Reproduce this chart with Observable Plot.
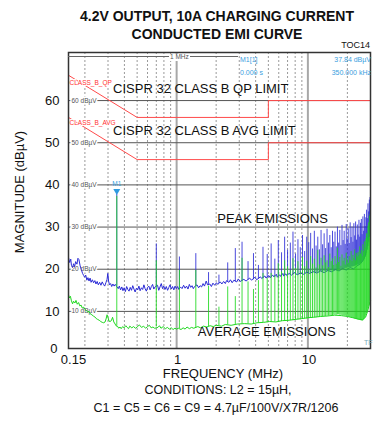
<!DOCTYPE html>
<html><head><meta charset="utf-8">
<script src="https://cdn.jsdelivr.net/npm/d3@7"></script>
<script src="https://cdn.jsdelivr.net/npm/@observablehq/plot@0.6"></script>
<style>
html,body{margin:0;padding:0;background:#fff;}
#wrap{position:relative;width:377px;height:421px;overflow:hidden;font-family:"Liberation Sans",Arial,Helvetica,sans-serif;color:#111;}
#chart{position:absolute;left:0;top:0;}
.t{position:absolute;white-space:nowrap;}
.c{transform:translateX(-50%);}
.sm{font-size:7px;line-height:7px;color:#3a9ee0;}
</style></head><body>
<div id="wrap">
<div id="chart"></div>
<div class="t c" style="left:217px;top:9px;font-size:14px;line-height:14px;font-weight:bold">4.2V OUTPUT, 10A CHARGING CURRENT</div>
<div class="t c" style="left:217px;top:27px;font-size:14px;line-height:14px;font-weight:bold">CONDUCTED EMI CURVE</div>
<div class="t" style="right:7px;top:41px;font-size:9px;line-height:9px">TOC14</div>
<div class="t" style="left:68px;top:56px;width:170px;height:1px;background:#666"></div>
<div class="t" style="left:169px;top:54px;font-size:6.5px;line-height:6.5px;color:#555;background:#fff;padding:0 1px">1 MHz</div>
<div class="t sm" style="left:240px;top:56px">M1[1]</div>
<div class="t sm" style="left:240px;top:68.5px">0.000 s</div>
<div class="t sm" style="right:6px;top:56px">37.84 dBµV</div>
<div class="t sm" style="right:6px;top:68.5px">350.000 kHz</div>
<div class="t sm" style="left:364px;top:339px;color:#7ab">TF</div>
<div class="t c" style="left:223px;top:367px;font-size:13px;line-height:13px">FREQUENCY (MHz)</div>
<div class="t" style="left:19px;top:192px;font-size:13px;line-height:13px;transform:translate(-50%,-50%) rotate(-90deg)">MAGNITUDE (dBµV)</div>
<div class="t c" style="left:218px;top:384px;font-size:12.5px;line-height:12.5px">CONDITIONS: L2 = 15µH,</div>
<div class="t c" style="left:216px;top:402px;font-size:12.5px;line-height:12.5px">C1 = C5 = C6 = C9 = 4.7µF/100V/X7R/1206</div>
</div>
<script>
// ---------- data ----------
const xDomain = [0.15, 30];
const yDomain = [1.2, 71.4];
const xTicksFirst = [0.15];
const xTicks = [1, 10, 30];
const yTicks = [10, 20, 30, 40, 50, 60];
const gridMinor = [0.2,0.3,0.4,0.5,0.6,0.7,0.8,0.9,2,3,4,5,6,7,8,9,20];
const gridMajor = [1, 10];

const limitF = [0.15, 0.5, 5, 5, 30];
const qpLimit = [66, 56, 56, 60, 60];
const avgLimit = [56, 46, 46, 50, 50];

// peak emissions, broadband floor (MHz, dBµV)
const peakNoise = [[0.150,22.8],[0.153,21.6],[0.156,22.4],[0.158,20.9],[0.161,20.4],[0.164,21.3],[0.167,20.6],[0.170,21.8],[0.174,21.2],[0.177,22.6],[0.180,22.3],[0.184,20.8],[0.188,19.9],[0.192,19.0],[0.196,18.5],[0.199,18.1],[0.203,18.6],[0.207,17.4],[0.211,18.0],[0.215,17.2],[0.219,17.9],[0.223,16.9],[0.228,17.5],[0.233,16.8],[0.238,17.3],[0.243,16.5],[0.248,17.1],[0.253,16.3],[0.259,16.9],[0.265,16.2],[0.271,17.0],[0.277,16.4],[0.283,16.0],[0.289,16.8],[0.295,17.6],[0.299,19.0],[0.303,17.2],[0.308,16.3],[0.314,16.6],[0.320,15.9],[0.327,16.5],[0.334,16.0],[0.341,16.4],[0.359,15.4],[0.366,16.0],[0.374,15.1],[0.382,15.8],[0.390,14.9],[0.398,15.6],[0.407,14.7],[0.416,15.9],[0.425,15.2],[0.434,14.8],[0.443,15.7],[0.453,15.0],[0.463,16.1],[0.473,15.3],[0.483,14.6],[0.494,15.5],[0.505,15.1],[0.516,16.0],[0.527,14.9],[0.539,15.6],[0.551,15.2],[0.563,16.3],[0.575,15.4],[0.588,14.8],[0.601,15.7],[0.614,16.0],[0.628,15.1],[0.642,15.9],[0.656,16.4],[0.670,15.3],[0.685,15.8],[0.715,16.2],[0.731,15.0],[0.747,15.8],[0.764,16.6],[0.781,15.4],[0.798,16.0],[0.816,15.2],[0.834,15.9],[0.853,15.0],[0.872,15.7],[0.891,16.3],[0.911,15.3],[0.931,15.9],[0.952,15.1],[0.973,16.0],[0.995,15.4],[1.017,15.9],[1.04,15.2],[1.07,15.8],[1.10,15.4],[1.13,16.2],[1.16,15.5],[1.19,16.0],[1.22,15.3],[1.25,16.4],[1.28,15.7],[1.31,16.1],[1.34,15.4],[1.37,15.9],[1.43,16.3],[1.47,15.6],[1.51,16.1],[1.55,15.8],[1.59,16.6],[1.63,16.0],[1.68,17.2],[1.72,16.3],[1.79,16.5],[1.84,15.9],[1.89,16.7],[1.95,16.2],[2.01,16.8],[2.06,16.4],[2.15,17.0],[2.21,16.5],[2.28,17.1],[2.35,16.6],[2.40,17.3],[2.50,16.9],[2.57,17.5],[2.65,16.8],[2.73,17.4],[2.87,17.0],[2.95,17.7],[3.05,17.1],[3.25,17.6],[3.38,17.2],[3.60,17.9],[3.72,17.4],[3.95,18.1],[4.07,17.5],[4.35,18.2],[4.45,17.8],[4.70,18.4],[4.80,17.9],[5.05,18.5],[5.15,18.0],[5.40,18.6],[5.50,18.2],[5.75,18.8],[5.85,18.1],[6.10,18.7],[6.20,18.3],[6.45,19.0],[6.55,18.4],[6.80,18.9],[6.90,18.5],[7.2,19.0],[7.5,18.6],[7.9,19.2],[8.3,18.7],[8.8,19.1],[9.3,18.8],[9.8,19.3],[10.3,19.0],[11.0,19.4],[11.7,19.1],[12.5,19.6],[13.3,19.2],[14.2,19.7],[15.2,19.4],[16.2,19.9],[17.3,19.6],[18.4,20.2],[19.6,19.8],[21.0,20.4],[22.3,20.1],[23.7,20.8],[25.2,21.3],[26.5,22.2],[27.6,23.6],[28.5,26.0],[29.2,29.0],[29.6,32.5],[30.0,35.0]];

// average emissions, broadband floor (MHz, dBµV)
const avgNoise = [[0.150,14.0],[0.152,13.2],[0.155,13.6],[0.158,12.5],[0.161,11.8],[0.164,12.4],[0.168,12.0],[0.171,12.6],[0.175,11.7],[0.179,12.1],[0.183,11.3],[0.187,11.5],[0.191,10.8],[0.196,11.0],[0.200,10.5],[0.205,10.2],[0.210,9.9],[0.215,10.0],[0.220,9.4],[0.226,9.2],[0.232,8.9],[0.238,8.7],[0.244,8.3],[0.250,8.1],[0.257,7.9],[0.264,7.6],[0.271,7.4],[0.278,7.3],[0.285,7.5],[0.290,8.2],[0.295,9.2],[0.300,8.6],[0.305,7.7],[0.311,7.6],[0.318,7.8],[0.325,8.6],[0.332,7.5],[0.340,7.0],[0.345,6.6],[0.356,6.4],[0.362,6.0],[0.370,6.3],[0.378,5.9],[0.388,6.4],[0.398,6.1],[0.41,6.6],[0.42,6.2],[0.43,5.9],[0.44,6.5],[0.455,6.1],[0.47,6.4],[0.485,6.0],[0.50,6.3],[0.52,6.8],[0.54,6.2],[0.56,6.5],[0.58,6.0],[0.60,6.4],[0.62,6.7],[0.64,6.1],[0.66,6.3],[0.68,6.0],[0.72,6.2],[0.74,6.6],[0.76,6.0],[0.79,6.4],[0.82,5.9],[0.85,6.2],[0.88,5.8],[0.91,6.1],[0.94,5.7],[0.97,6.0],[1.00,5.8],[1.03,6.0],[1.08,5.7],[1.12,6.1],[1.16,5.8],[1.20,6.3],[1.25,5.9],[1.30,6.2],[1.35,6.0],[1.45,6.4],[1.52,6.1],[1.60,6.5],[1.70,6.3],[1.80,6.6],[1.90,6.4],[2.00,6.7],[2.20,6.5],[2.35,6.9],[2.60,6.7],[2.90,7.0],[3.30,7.1],[3.70,7.0],[4.10,7.3],[4.60,7.4],[5.10,7.6],[5.70,7.5],[6.40,7.8],[7.20,7.9],[8.0,8.1],[9.0,8.3],[10.0,8.5],[11.0,8.6],[12.5,8.8],[14.0,8.9],[16.0,9.1],[18.0,9.0],[20.0,8.8],[22.0,8.5],[24.0,8.2],[26.0,8.0],[27.5,8.6],[28.5,10.0],[29.3,11.5],[30.0,12.5]];

// switching harmonics (350 kHz fundamental), MHz
const harmF = [0.35,0.70,1.05,1.40,1.75,2.10,2.45,2.80,3.15,3.50,3.85,4.20,4.55,4.90,5.25,5.60,5.95,6.30,6.65,7.00,7.35,7.70,8.05,8.40,8.75,9.10,9.45,9.80,10.15,10.50,10.85,11.20,11.55,11.90,12.25,12.60,12.95,13.30,13.65,14.00,14.35,14.70,15.05,15.40,15.75,16.10,16.45,16.80,17.15,17.50,17.85,18.20,18.55,18.90,19.25,19.60,19.95,20.30,20.65,21.00,21.35,21.70,22.05,22.40,22.75,23.10,23.45,23.80,24.15,24.50,24.85,25.20,25.55,25.90,26.25,26.60,26.95,27.30,27.65,28.00,28.35,28.70,29.05,29.40,29.75];
const peakSpike = [37.8,26.0,22.9,23.7,19.2,18.6,21.5,24.9,26.4,21.8,23.7,20.9,25.2,23.5,26.0,22.4,26.8,23.9,27.6,24.5,26.2,28.8,23.6,27.0,25.1,28.0,24.2,27.6,26.3,28.5,24.8,29.0,25.5,27.6,24.6,29.2,25.8,28.4,24.9,29.5,26.2,28.0,25.1,29.0,26.4,28.8,25.3,30.0,26.2,29.2,25.6,30.4,26.8,29.0,25.9,30.6,27.2,29.6,26.1,31.0,27.5,30.0,26.4,30.8,27.9,31.2,26.9,30.5,28.1,31.6,27.6,30.9,31.8,28.2,32.4,29.0,33.0,30.1,32.2,34.0,32.0,35.5,33.6,36.4,37.0];
const peakFloor = [16.0,15.8,15.6,16.0,16.4,16.6,16.9,17.0,17.2,17.4,17.5,17.6,17.8,17.9,18.0,18.1,18.2,18.3,18.4,18.5,18.6,18.7,18.7,18.8,18.8,18.9,18.9,19.0,19.0,19.1,19.1,19.2,19.2,19.3,19.3,19.4,19.4,19.5,19.5,19.5,19.6,19.6,19.6,19.7,19.7,19.7,19.8,19.8,19.9,19.9,20.0,20.0,20.1,20.1,20.2,20.2,20.3,20.3,20.4,20.4,20.5,20.5,20.6,20.6,20.7,20.8,20.9,21.0,21.0,21.1,21.2,21.3,21.5,21.7,21.9,22.1,22.4,22.8,23.2,23.8,24.5,25.4,26.4,27.6,29.0];
const avgSpike = [37.3,22.0,19.7,19.7,16.0,11.0,15.8,13.5,22.6,17.0,15.2,17.3,19.0,17.8,19.0,18.5,21.3,19.4,22.0,20.6,19.7,22.5,20.2,21.8,19.5,22.8,20.6,21.9,20.0,23.0,21.2,22.4,20.3,24.5,21.0,22.6,20.8,23.2,21.5,22.0,20.4,23.6,21.8,22.5,20.9,23.0,21.2,25.0,21.6,22.8,20.7,23.4,21.9,22.6,21.0,23.8,22.2,21.4,23.0,22.1,24.2,21.8,23.3,22.5,24.6,22.0,23.7,22.9,24.0,23.2,25.3,23.6,24.4,23.0,25.8,24.2,26.5,25.0,27.2,28.4,27.5,30.2,31.0,32.5,33.0];
const avgFloor = [6.5,6.3,5.9,6.1,6.4,6.6,6.8,6.9,7.0,7.0,7.1,7.2,7.3,7.3,7.4,7.5,7.5,7.6,7.7,7.7,7.8,7.8,7.9,8.0,8.0,8.1,8.2,8.2,8.3,8.4,8.4,8.5,8.5,8.6,8.6,8.7,8.7,8.8,8.8,8.9,8.9,9.0,9.0,9.0,9.1,9.1,9.1,9.2,9.2,9.1,9.1,9.0,9.0,8.9,8.9,8.8,8.8,8.7,8.6,8.6,8.5,8.4,8.4,8.3,8.2,8.2,8.1,8.0,8.0,7.9,7.9,7.8,7.8,7.7,7.8,8.0,8.3,8.6,9.0,9.5,10.0,10.6,11.2,11.8,12.4];

const marker = [{f: 0.35, db: 37.84, name: "M1"}];
const limitTags = [{db: 64.3, text: "CLASS_B_QP"}, {db: 54.7, text: "CLASS_B_AVG"}];
const notes = [
  {f: 0.328, db: 62.8, text: "CISPR 32 CLASS B QP LIMIT"},
  {f: 0.328, db: 52.9, text: "CISPR 32 CLASS B AVG LIMIT"},
  {f: 2.04, db: 31.9, text: "PEAK EMISSIONS"},
  {f: 1.45, db: 5.1, text: "AVERAGE EMISSIONS"}
];

// ---------- build ----------
const qpData = limitF.map((f, i) => ({f, v: qpLimit[i]}));
const avData = limitF.map((f, i) => ({f, v: avgLimit[i]}));
const pkRules = harmF.map((f, i) => ({f, lo: peakFloor[i], hi: peakSpike[i]}));
const avRules = harmF.map((f, i) => ({f, lo: avgFloor[i], hi: avgSpike[i]}));
const BLUE = "#2b2bd6", GREEN = "#1fd81f", RED = "#ff4a4a";

const chart = Plot.plot({
  width: 377, height: 421,
  marginLeft: 68, marginRight: 7, marginTop: 52, marginBottom: 73,
  style: {fontFamily: "Liberation Sans, Arial, sans-serif", fontSize: "13px", background: "transparent", color: "#111"},
  x: {type: "log", domain: xDomain, label: null},
  y: {domain: yDomain, label: null},
  marks: [
    Plot.ruleX(gridMinor, {stroke: "#9a9a9a", strokeWidth: 1, strokeDasharray: "2,2"}),
    Plot.ruleX(gridMajor, {stroke: "#a8a8a8", strokeWidth: 2}),
    Plot.ruleY(yTicks, {stroke: "#555", strokeWidth: 1}),
    Plot.text(yTicks, {y: d => d, text: d => `${d} dBµV`, frameAnchor: "left", textAnchor: "start", dx: 3, fontSize: 6.5, fill: "#555", stroke: "white", strokeWidth: 3}),
    Plot.line(qpData, {x: "f", y: "v", stroke: RED, strokeWidth: 1}),
    Plot.line(avData, {x: "f", y: "v", stroke: RED, strokeWidth: 1}),
    Plot.text(limitTags, {y: "db", text: "text", frameAnchor: "left", textAnchor: "start", dx: 1, fontSize: 6.5, fill: "#ff3030", stroke: "white", strokeWidth: 2}),
    Plot.line(peakNoise, {x: d => d[0], y: d => d[1], stroke: BLUE, strokeWidth: 1}),
    Plot.ruleX(pkRules, {x: "f", y1: "lo", y2: "hi", stroke: BLUE, strokeWidth: 1, strokeOpacity: 0.85}),
    Plot.line(avgNoise, {x: d => d[0], y: d => d[1], stroke: GREEN, strokeWidth: 1}),
    Plot.ruleX(avRules, {x: "f", y1: "lo", y2: "hi", stroke: GREEN, strokeWidth: 1, strokeOpacity: 0.85}),
    Plot.dot(marker, {x: "f", y: "db", symbol: "triangle", r: 2.6, rotate: 180, fill: "#2f9be0", stroke: "none", dy: -3}),
    Plot.text(marker, {x: "f", y: "db", text: "name", dy: -10, fontSize: 6.5, fill: "#3a9ee0"}),
    Plot.text(notes, {x: "f", y: "db", text: "text", textAnchor: "start", fontSize: 13, fill: "#111"}),
    Plot.frame({stroke: "#333", strokeWidth: 1.5}),
    Plot.axisX(xTicksFirst, {tickSize: 0, tickPadding: 6, tickFormat: d => String(d), fontSize: 13, dx: 5, label: null}),
    Plot.axisX(xTicks, {tickSize: 0, tickPadding: 6, tickFormat: d => String(d), fontSize: 13, dx: 1, label: null}),
    Plot.axisY(yTicks, {tickSize: 0, tickPadding: 9, fontSize: 13, label: null}),
    Plot.axisY([yDomain[0]], {tickSize: 0, tickPadding: 9, tickFormat: () => "0", fontSize: 13, dx: -2, label: null})
  ]
});
document.getElementById("chart").appendChild(chart);
</script>
</body></html>
